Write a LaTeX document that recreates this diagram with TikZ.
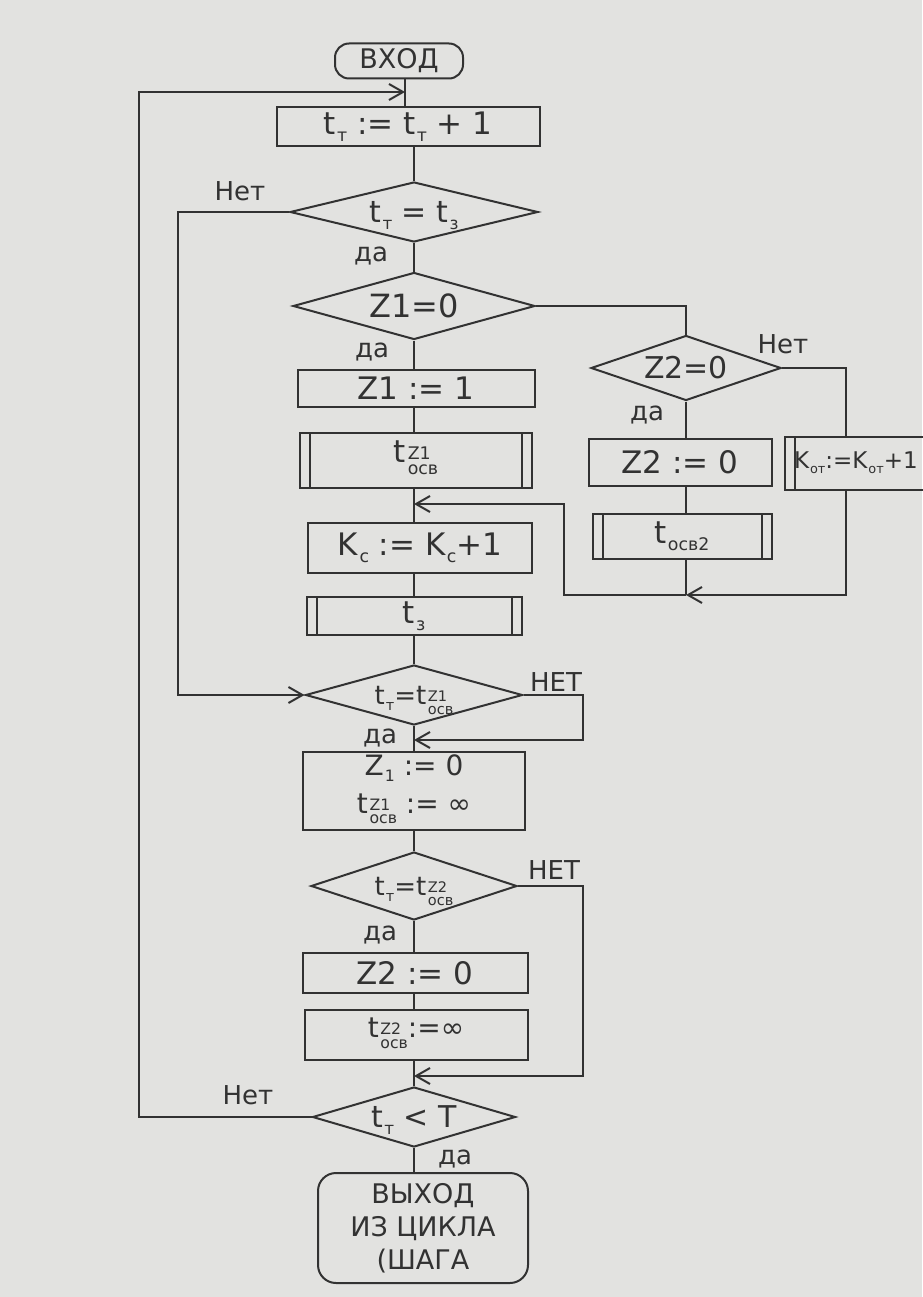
\documentclass[tikz,border=0pt]{standalone}
\usepackage{fontspec}
\setmainfont{DejaVu Sans}
\usetikzlibrary{shapes.geometric,arrows.meta}
\definecolor{paper}{RGB}{226,226,224}
\definecolor{ink}{RGB}{50,50,50}
\makeatletter
\newcommand\scr{\fontsize{\fpeval{0.56*\f@size}}{\fpeval{0.86*\f@size}}\selectfont}
\makeatother
\newcommand\lsub[2]{#1\hspace{0.04em}\raisebox{-0.22em}{\scr #2}}
\newcommand\sbs[3]{#1\hspace{0.06em}\raisebox{-0.38em}{\scr\begin{tabular}[b]{@{}l@{}}#3\\#2\end{tabular}}}
% text inside a diamond that does not change the diamond's size
\newcommand\dt[1]{\makebox[0pt]{\raisebox{-0.36em}[0pt][0pt]{#1}}}
\tikzset{
  line/.style={draw=ink, line width=2pt},
  arr/.style={line, -{Straight Barb[length=14pt,width=16pt,line width=2pt]}},
  proc/.style={draw=ink, line width=2pt, rectangle, inner sep=0pt, text=ink,
    font=\fontsize{31}{36}\selectfont},
  term/.style={proc, rounded corners=14pt},
  subproc/.style={proc, path picture={
    \draw[ink, line width=2pt]
      ([xshift=10pt]path picture bounding box.north west) -- ([xshift=10pt]path picture bounding box.south west)
      ([xshift=-10pt]path picture bounding box.north east) -- ([xshift=-10pt]path picture bounding box.south east);}},
  dec/.style={draw=ink, line width=2pt, diamond, inner sep=0pt, text=ink,
    font=\fontsize{30}{34}\selectfont},
  lab/.style={text=ink, inner sep=1pt, font=\fontsize{26}{28}\selectfont}
}
\begin{document}
\begin{tikzpicture}[x=1pt,y=-1pt]
\fill[paper] (0,0) rectangle (922,1297);
\useasboundingbox (0,0) rectangle (922,1297);

% main column
\node[term, minimum width=128, minimum height=35, font=\fontsize{27}{30}\selectfont] (start) at (399,61) {ВХОД};
\node[proc, minimum width=263, minimum height=39] (box1) at (408,127) {\lsub{t}{т} := \lsub{t}{т} + 1};
\node[dec, minimum width=248, minimum height=60] (d1) at (414,212) {\dt{\lsub{t}{т} = \lsub{t}{з}}};
\node[dec, minimum width=242, minimum height=67, font=\fontsize{32}{36}\selectfont] (d2) at (414,306) {\dt{Z1=0}};
\node[proc, minimum width=237, minimum height=37] (b2) at (416,388) {Z1 := 1};
\node[subproc, minimum width=232, minimum height=55] (sp1) at (416,460) {\sbs{t}{осв}{Z1}};
\node[proc, minimum width=224, minimum height=50] (b3) at (420,548) {\lsub{K}{с} := \lsub{K}{с}+1};
\node[subproc, minimum width=215, minimum height=38] (sp2) at (414,616) {\lsub{t}{з}};
\node[dec, minimum width=217, minimum height=60, font=\fontsize{26}{30}\selectfont] (d3) at (414,695) {\dt{\lsub{t}{т}=\sbs{t}{осв}{Z1}}};
\node[proc, minimum width=222, minimum height=78, align=center, font=\fontsize{28}{38}\selectfont] (b4) at (414,791) {\lsub{Z}{1} := 0\\\sbs{t}{осв}{Z1} := ∞};
\node[dec, minimum width=206, minimum height=68, font=\fontsize{26}{30}\selectfont] (d4) at (414,886) {\dt{\lsub{t}{т}=\sbs{t}{осв}{Z2}}};
\node[proc, minimum width=225, minimum height=40] (b5) at (415,973) {Z2 := 0};
\node[proc, minimum width=223, minimum height=50, font=\fontsize{28}{32}\selectfont] (b6) at (416,1035) {\sbs{t}{осв}{Z2}:=∞};
\node[dec, minimum width=203, minimum height=60] (d5) at (414,1117) {\dt{\lsub{t}{т} < Т}};
\node[term, rounded corners=18pt, minimum width=210, minimum height=110, align=center, font=\fontsize{27}{33}\selectfont] (end) at (423,1228) {ВЫХОД\\ИЗ ЦИКЛА\\(ШАГА};

% right column
\node[dec, minimum width=190, minimum height=65] (dz) at (686,368) {\dt{Z2=0}};
\node[proc, minimum width=183, minimum height=47] (bz) at (680,462) {Z2 := 0};
\node[subproc, minimum width=179, minimum height=45] (sz) at (682,536) {\lsub{t}{осв2}};
\node[subproc, minimum width=150, minimum height=53, text width=132, align=left, font=\fontsize{23}{28}\selectfont] (kot) at (860,463) {\lsub{K}{от}:=\lsub{K}{от}+1};

% helper coordinates
\coordinate (cx) at (414,0);
\coordinate (rx) at (686,0);
\coordinate (j1) at (405,92);
\coordinate (l1) at (139,92);
\coordinate (lx2) at (178,0);
\coordinate (kx) at (846,0);
\coordinate (m1) at (414,504);
\coordinate (m2) at (686,595);
\coordinate (mx) at (564,0);
\coordinate (r3) at (583,740);
\coordinate (m3) at (414,740);
\coordinate (r4) at (583,1076);
\coordinate (m4) at (414,1076);

% main flow
\draw[line] (start.south -| j1) -- (j1) -- (j1 |- box1.north);
\draw[line] (cx |- box1.south) -- (d1.north);
\draw[line] (d1.south) -- (d2.north);
\draw[line] (d2.south) -- (cx |- b2.north);
\draw[line] (cx |- b2.south) -- (cx |- sp1.north);
\draw[line] (cx |- sp1.south) -- (cx |- b3.north);
\draw[line] (cx |- b3.south) -- (cx |- sp2.north);
\draw[line] (cx |- sp2.south) -- (d3.north);
\draw[line] (d3.south) -- (cx |- b4.north);
\draw[line] (cx |- b4.south) -- (d4.north);
\draw[line] (d4.south) -- (cx |- b5.north);
\draw[line] (cx |- b5.south) -- (cx |- b6.north);
\draw[line] (cx |- b6.south) -- (d5.north);
\draw[line] (d5.south) -- (cx |- end.north);

% loops
\draw[arr] (d1.west) -- (d1.west -| lx2) |- (d3.west);
\draw[arr] (d5.west) -| (l1) -- (j1);
\draw[arr] (d3.east) -| (r3) -- (m3);
\draw[arr] (d4.east) -| (r4) -- (m4);

% right branch
\draw[line] (d2.east) -| (dz.north);
\draw[line] (dz.south) -- (rx |- bz.north);
\draw[line] (rx |- bz.south) -- (rx |- sz.north);
\draw[line] (rx |- sz.south) -- (m2);
\draw[line] (dz.east) -| (kx |- kot.north);
\draw[arr] (kx |- kot.south) |- (m2);
\draw[arr] (m2) -| (mx |- m1) -- (m1);

% labels
\node[lab] (n1) at (240,191) {Нет};
\node[lab] (y1) at (371,256) {да};
\node[lab] (y2) at (372,352) {да};
\node[lab] (n2) at (783,344) {Нет};
\node[lab] (y3) at (647,415) {да};
\node[lab] (n3) at (556,682) {НЕТ};
\node[lab] (y4) at (380,738) {да};
\node[lab] (n4) at (554,870) {НЕТ};
\node[lab] (y5) at (380,935) {да};
\node[lab] (n5) at (248,1095) {Нет};
\node[lab] (y6) at (455,1159) {да};
\end{tikzpicture}
\end{document}
